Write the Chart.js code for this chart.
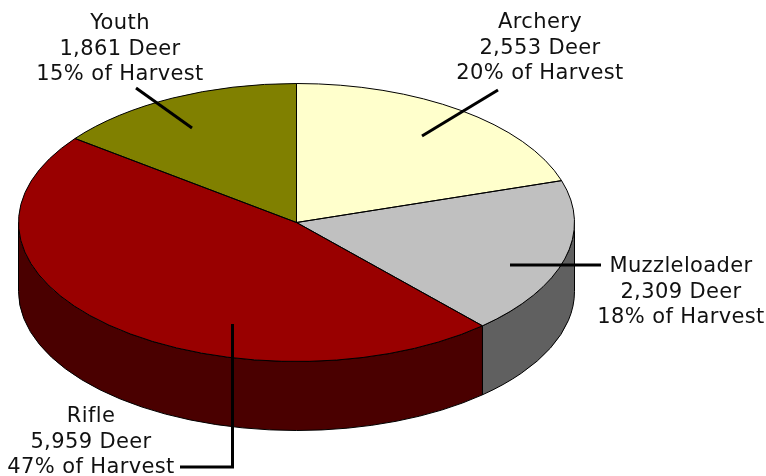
<!DOCTYPE html>
<html>
<head>
<meta charset="utf-8">
<title>Deer harvest</title>
<style>
  html, body { margin: 0; padding: 0; background: #fff; }
  #wrap { position: relative; width: 766px; height: 476px; }
</style>
<script src="https://cdn.jsdelivr.net/npm/chart.js@4"></script>
</head>
<body>
<div id="wrap"><canvas id="grafico" width="766" height="476"></canvas></div>
<script>
const seasons = ['Archery', 'Muzzleloader', 'Rifle', 'Youth'];
const deer = [2553, 2309, 5959, 1861];
const percents = [20, 18, 47, 15];

const topColors = ['#FFFFCC', '#C0C0C0', '#990000', '#808000'];
const wallColors = ['#808066', '#606060', '#4A0000', '#404000'];

// label placement: centre x, first baseline, then the leader polyline
const labelSpots = [
  { x: 540, y: 28, leader: [[498, 90], [422, 136]] },
  { x: 681, y: 272, leader: [[601, 265], [510, 265]] },
  { x: 91, y: 422, leader: [[232.5, 324], [232.5, 467], [180, 467]] },
  { x: 120, y: 29, leader: [[136, 88], [192, 128]] }
];

const squash = 0.5;
const depth = 69;

function arcs(chart) {
  return chart.getDatasetMeta(0).data.map(el =>
    el.getProps(['x', 'y', 'startAngle', 'endAngle', 'outerRadius'], true));
}

// path is built in squashed space, stroke happens outside so the line stays even
function squashed(ctx, a, fn) {
  ctx.save();
  ctx.translate(a.x, a.y);
  ctx.scale(1, squash);
  ctx.translate(-a.x, -a.y);
  fn();
  ctx.restore();
}

const pie3d = {
  id: 'pie3d',
  beforeDatasetsDraw(chart) {
    const ctx = chart.ctx;
    arcs(chart).forEach((a, i) => {
      // only the front half of the rim shows (0 to PI on canvas angles)
      const from = Math.max(a.startAngle, 0);
      const to = Math.min(a.endAngle, Math.PI);
      if (to <= from) return;
      ctx.beginPath();
      squashed(ctx, a, () => ctx.arc(a.x, a.y, a.outerRadius, from, to));
      ctx.save();
      ctx.translate(0, depth);
      squashed(ctx, a, () => ctx.arc(a.x, a.y, a.outerRadius, to, from, true));
      ctx.restore();
      ctx.closePath();
      ctx.fillStyle = wallColors[i];
      ctx.fill();
      ctx.strokeStyle = '#000';
      ctx.lineWidth = 1;
      ctx.stroke();
    });
    // flatten the slices the library is about to draw
    const a = arcs(chart)[0];
    ctx.save();
    ctx.translate(a.x, a.y);
    ctx.scale(1, squash);
    ctx.translate(-a.x, -a.y);
  },
  afterDatasetsDraw(chart) {
    const ctx = chart.ctx;
    ctx.restore();

    arcs(chart).forEach(a => {
      ctx.beginPath();
      squashed(ctx, a, () => {
        ctx.moveTo(a.x, a.y);
        ctx.arc(a.x, a.y, a.outerRadius, a.startAngle, a.endAngle);
        ctx.closePath();
      });
      ctx.strokeStyle = '#000';
      ctx.lineWidth = 1;
      ctx.stroke();
    });

    ctx.strokeStyle = '#000';
    ctx.lineWidth = 3;
    ctx.lineJoin = 'miter';
    labelSpots.forEach(s => {
      ctx.beginPath();
      s.leader.forEach((p, i) => i ? ctx.lineTo(p[0], p[1]) : ctx.moveTo(p[0], p[1]));
      ctx.stroke();
    });

    ctx.fillStyle = '#111';
    ctx.font = '21px "DejaVu Sans"';
    ctx.letterSpacing = '0.38px';
    ctx.textAlign = 'center';
    ctx.textBaseline = 'alphabetic';
    labelSpots.forEach((s, i) => {
      ctx.fillText(seasons[i], s.x, s.y);
      ctx.fillText(deer[i].toLocaleString('en-US') + ' Deer', s.x, s.y + 25.5);
      ctx.fillText(percents[i] + '% of Harvest', s.x, s.y + 51);
    });
  }
};

new Chart(document.getElementById('grafico'), {
  type: 'pie',
  data: {
    labels: seasons,
    datasets: [{
      data: deer,
      backgroundColor: topColors,
      borderWidth: 0
    }]
  },
  options: {
    responsive: false,
    animation: false,
    radius: 278,
    layout: { padding: { left: 0, top: 1, right: 173, bottom: 32 } },
    plugins: { legend: { display: false }, tooltip: { enabled: false } }
  },
  plugins: [pie3d]
});
</script>
</body>
</html>
